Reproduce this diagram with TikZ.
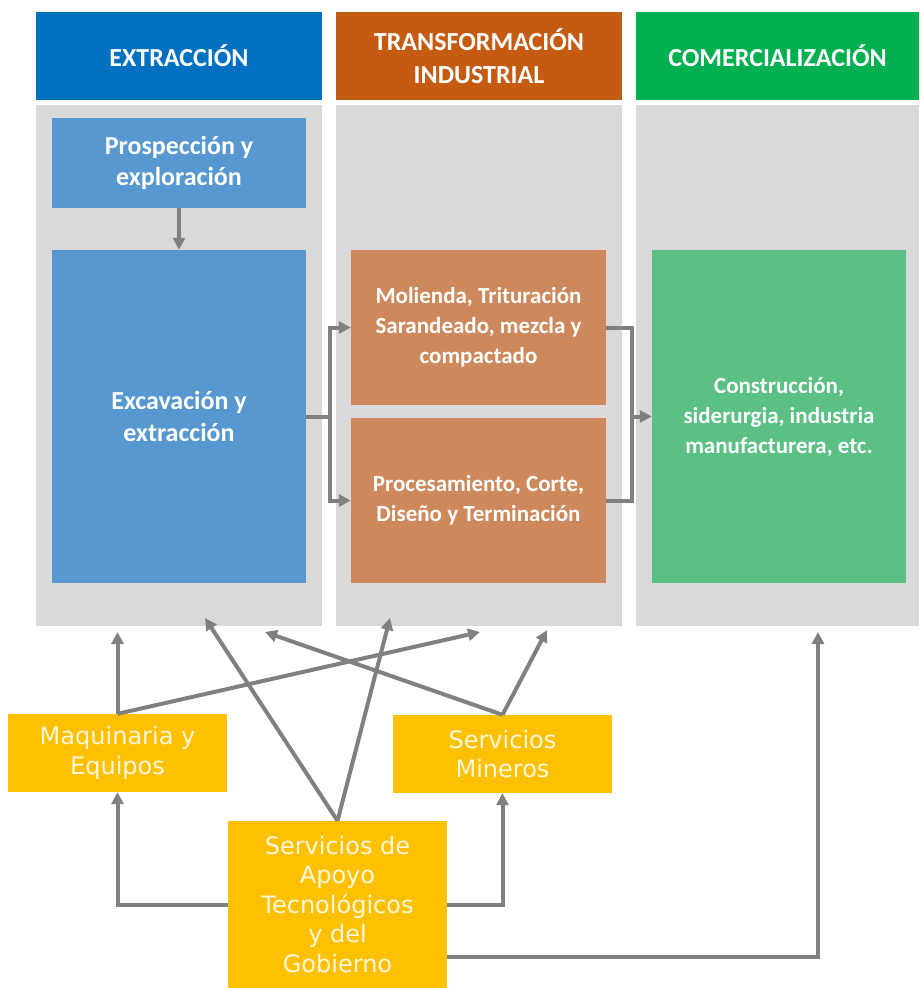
\documentclass[tikz,border=0pt]{standalone}
\usepackage{fontspec}
\setmainfont{Carlito}
\newfontfamily\suppfont{DejaVu Sans}
\usetikzlibrary{arrows.meta}
\definecolor{hdrblue}{RGB}{0,112,192}
\definecolor{hdrorange}{RGB}{197,90,17}
\definecolor{hdrgreen}{RGB}{0,176,80}
\definecolor{panelgrey}{RGB}{217,217,217}
\definecolor{extblue}{RGB}{86,152,207}
\definecolor{trabrown}{RGB}{205,137,92}
\definecolor{comgreen}{RGB}{90,192,132}
\definecolor{suppyellow}{RGB}{255,192,0}
\definecolor{suppcream}{RGB}{255,247,222}
\definecolor{linkgrey}{RGB}{128,128,128}

\begin{document}
\begin{tikzpicture}[x=1pt, y=-1pt,
	every node/.style={inner sep=0pt, align=center},
	>={Triangle[length=12pt, width=12pt]},
	head/.style={fill=#1, text=white, font=\fontsize{26}{33}\selectfont\bfseries, minimum height=88pt},
	panel/.style={fill=panelgrey, minimum height=521pt},
	stage/.style={fill=#1, text=white, font=\fontsize{23}{30}\selectfont\bfseries, minimum width=254pt},
	bigstage/.style={stage=#1, font=\fontsize{26}{31.5}\selectfont\bfseries},
	support/.style={fill=suppyellow, text=suppcream, font=\suppfont\fontsize{24}{29.5}\selectfont, minimum width=219pt},
	link/.style={draw=linkgrey, line width=4pt}]
	\useasboundingbox (0,0) rectangle (919,988);
	\node[panel, minimum width=286pt] (extpanel) at (179,365.5) {};
	\node[panel, minimum width=286pt] (trapanel) at (479,365.5) {};
	\node[panel, minimum width=283pt] (companel) at (777.5,365.5) {};
	\node[head=hdrblue, minimum width=286pt] (ext) at (179,56) {EXTRACCIÓN};
	\node[head=hdrorange, minimum width=286pt] (tra) at (479,56) {TRANSFORMACIÓN\\INDUSTRIAL};
	\node[head=hdrgreen, minimum width=283pt] (com) at (777.5,56) {COMERCIALIZACIÓN};
	\node[bigstage=extblue, minimum height=90pt] (prosp) at (179,163) {Prospección y\\exploración};
	\node[bigstage=extblue, minimum height=333pt] (exca) at (179,416.5) {Excavación y\\extracción};
	\node[stage=trabrown, minimum width=255pt, minimum height=155pt] (mol) at (478.5,327.5) {Molienda, Trituración\\Sarandeado, mezcla y\\compactado};
	\node[stage=trabrown, minimum width=255pt, minimum height=165pt] (proc) at (478.5,500.5) {Procesamiento, Corte,\\Diseño y Terminación};
	\node[stage=comgreen, minimum height=333pt] (cons) at (779,416.5) {Construcción,\\siderurgia, industria\\manufacturera, etc.};
	\node[support, minimum height=78pt] (maq) at (117.5,753) {Maquinaria y\\Equipos};
	\node[support, minimum height=78pt] (serv) at (502.5,754) {Servicios\\Mineros};
	\node[support, minimum height=167pt] (gob) at (337.5,904.5) {Servicios de\\Apoyo\\Tecnológicos\\y del\\Gobierno};
	\coordinate (split) at (330,416.5);
	\coordinate (merge) at (632,416.5);
	\coordinate (extin) at (117.5,632);
	\coordinate (extmid) at (205,618);
	\coordinate (extright) at (265,632);
	\coordinate (tramid) at (390,618);
	\coordinate (traleft) at (480,632);
	\coordinate (traright) at (547,630);
	\coordinate (comin) at (818,632);
	\draw[link, ->] (prosp) -- (exca);
	\draw[link] (exca.east) -- (split);
	\draw[link, ->] (split) |- (mol.west);
	\draw[link, ->] (split) |- (proc.west);
	\draw[link] (mol.east) -| (merge);
	\draw[link] (proc.east) -| (merge);
	\draw[link, ->] (merge) -- (cons.west);
	\draw[link, ->] (maq.north) -- (extin);
	\draw[link, ->] (maq.north) -- (traleft);
	\draw[link, ->] (gob.north) -- (extmid);
	\draw[link, ->] (gob.north) -- (tramid);
	\draw[link, ->] (serv.north) -- (extright);
	\draw[link, ->] (serv.north) -- (traright);
	\draw[link, ->] (gob.west) -| (maq.south);
	\draw[link, ->] (gob.east) -| (serv.south);
	\draw[link, ->] ([yshift=31pt]gob.south east) -| (comin);
\end{tikzpicture}
\end{document}
